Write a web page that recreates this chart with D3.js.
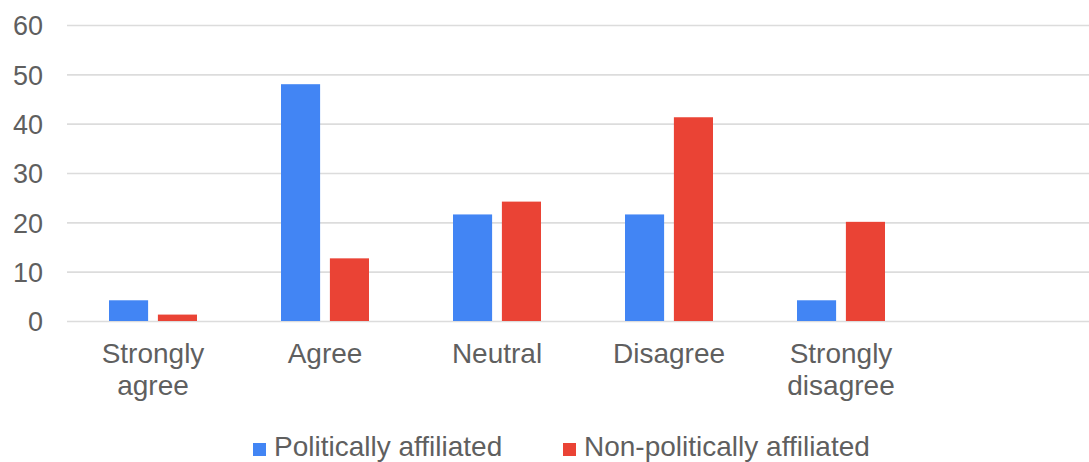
<!DOCTYPE html>
<html>
<head>
<meta charset="utf-8">
<script src="https://cdn.jsdelivr.net/npm/d3@7"></script>
<style>
  html, body { margin: 0; padding: 0; background: #fff; }
  svg { display: block; }
  text { font-family: "Liberation Sans", Arial, sans-serif; fill: #5f5f5f; }
</style>
</head>
<body>
<svg id="chart" width="1089" height="462"></svg>
<script>
const categories = ["Strongly agree", "Agree", "Neutral", "Disagree", "Strongly disagree"];
const seriesNames = ["Politically affiliated", "Non-politically affiliated"];
const politicallyAffiliated = [4.2, 48.0, 21.6, 21.6, 4.2];
const nonPoliticallyAffiliated = [1.3, 12.7, 24.2, 41.3, 20.1];
const yTicks = [0, 10, 20, 30, 40, 50, 60];
const colors = ["#4285f4", "#ea4335"];

const svg = d3.select("#chart");
const W = 1089;
const plotLeft = 67, plotTop = 25, plotBottom = 321;
const bandStep = 172;

const y = d3.scaleLinear().domain([0, 60]).range([plotBottom, plotTop]);
const x = d3.scaleBand().domain(categories)
  .range([plotLeft, plotLeft + bandStep * categories.length])
  .paddingInner(0).paddingOuter(0);
const groupW = 88;
const xs = d3.scaleBand().domain(seriesNames)
  .range([(x.bandwidth() - groupW) / 2, (x.bandwidth() + groupW) / 2])
  .paddingInner(0.2).paddingOuter(0);

// gridlines
const yAxis = d3.axisLeft(y).tickValues(yTicks).tickSize(0).tickPadding(24);
const gy = svg.append("g").attr("transform", `translate(${plotLeft},0)`).call(yAxis);
gy.select(".domain").remove();
gy.selectAll("text").attr("font-size", 27).attr("fill", "#5f5f5f")
  .attr("font-family", "Liberation Sans, Arial, sans-serif").attr("dy", "0.36em");
gy.selectAll(".tick").append("line")
  .attr("x1", 0).attr("x2", W - plotLeft)
  .attr("stroke", "#dcdcdc").attr("stroke-width", 1.6);

// bars
const data = categories.map((c, i) => ({
  cat: c,
  vals: [politicallyAffiliated[i], nonPoliticallyAffiliated[i]]
}));
const groups = svg.append("g").selectAll("g").data(data).join("g")
  .attr("transform", d => `translate(${x(d.cat)},0)`);
groups.selectAll("rect").data(d => d.vals.map((v, j) => ({ v, s: seriesNames[j], j })))
  .join("rect")
  .attr("x", d => xs(d.s))
  .attr("width", xs.bandwidth())
  .attr("y", d => y(d.v))
  .attr("height", d => y(0) - y(d.v))
  .attr("fill", d => colors[d.j]);

// x labels
const xAxis = d3.axisBottom(x).tickSize(0).tickPadding(0);
const gx = svg.append("g").attr("transform", `translate(0,${plotBottom})`).call(xAxis);
gx.select(".domain").remove();
gx.selectAll(".tick text").each(function(d) {
  const t = d3.select(this);
  t.text(null).attr("font-size", 28).attr("fill", "#5f5f5f")
    .attr("font-family", "Liberation Sans, Arial, sans-serif")
    .attr("text-anchor", "middle").attr("y", 0).attr("dy", null);
  const words = d.split(" ");
  words.forEach((w, i) => {
    t.append("tspan").attr("x", 0).attr("y", 42 + i * 31.5).text(w);
  });
});

// legend
const legendItems = [
  { name: seriesNames[0], color: colors[0], x: 253 },
  { name: seriesNames[1], color: colors[1], x: 563 }
];
const lg = svg.append("g");
legendItems.forEach(it => {
  lg.append("rect").attr("x", it.x).attr("y", 443).attr("width", 13).attr("height", 13).attr("fill", it.color);
  lg.append("text").attr("x", it.x + 21).attr("y", 456).attr("font-size", 28).text(it.name);
});
</script>
</body>
</html>
